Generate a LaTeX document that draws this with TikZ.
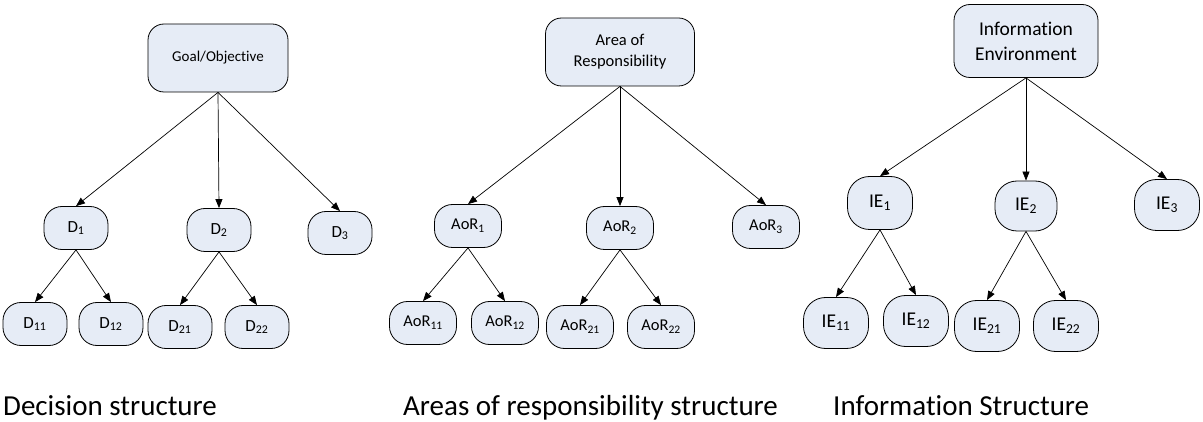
\documentclass[tikz,border=0pt]{standalone}
\usepackage{fontspec}
\setmainfont{Carlito}[Ligatures=NoCommon]
\usetikzlibrary{arrows.meta}
\definecolor{boxfill}{RGB}{230,236,246}

\begin{document}
\begin{tikzpicture}[x=1pt,y=-1pt,
    box/.style={draw=black,fill=boxfill,line width=0.8pt,inner sep=0pt,align=center},
    topbox/.style={box,rounded corners=16pt,minimum height=68pt},
    leaf/.style={box,rounded corners=18pt,minimum width=64pt,minimum height=43pt},
    ieleaf/.style={box,rounded corners=22pt,minimum width=65pt,minimum height=51pt},
    dfont/.style={font=\fontsize{15}{19}\selectfont},
    dleaffont/.style={font=\fontsize{17}{21}\selectfont},
    aorfont/.style={font=\fontsize{16.5}{21}\selectfont},
    iefont/.style={font=\fontsize{19.5}{25}\selectfont},
    arr/.style={-{Triangle[length=9pt,width=7pt]},line width=0.7pt},
    caption/.style={anchor=base west,inner sep=0pt,font=\fontsize{29}{33}\selectfont}]
    \useasboundingbox (0,0) rectangle (1203,422);
    \node [topbox,dfont,minimum width=140pt] (goal) at (218,58) {Goal/Objective};
    \node [leaf,dleaffont] (d1) at (76,228) {D\textsubscript{1}};
    \node [leaf,dleaffont] (d2) at (219,230) {D\textsubscript{2}};
    \node [leaf,dleaffont] (d3) at (340,233) {D\textsubscript{3}};
    \node [leaf,dleaffont] (d11) at (35,324) {D\textsubscript{11}};
    \node [leaf,dleaffont] (d12) at (111,324) {D\textsubscript{12}};
    \node [leaf,dleaffont] (d21) at (180,327) {D\textsubscript{21}};
    \node [leaf,dleaffont] (d22) at (257,327) {D\textsubscript{22}};
    \draw [arr] (goal.south) -- (d1.north);
    \draw [arr] (goal.south) -- (d2.north);
    \draw [arr] (goal.south) -- (d3.north);
    \draw [arr] (d1.south) -- (d11.north);
    \draw [arr] (d1.south) -- (d12.north);
    \draw [arr] (d2.south) -- (d21.north);
    \draw [arr] (d2.south) -- (d22.north);
    \node [topbox,aorfont,minimum width=149pt] (aor) at (620,52) {Area of\\Responsibility};
    \node [leaf,aorfont,minimum width=67pt] (aor1) at (468,226) {AoR\textsubscript{1}};
    \node [leaf,aorfont,minimum width=67pt] (aor2) at (620,228) {AoR\textsubscript{2}};
    \node [leaf,aorfont,minimum width=67pt] (aor3) at (766,227) {AoR\textsubscript{3}};
    \node [leaf,aorfont,minimum width=67pt] (aor11) at (423,323) {AoR\textsubscript{11}};
    \node [leaf,aorfont,minimum width=67pt] (aor12) at (505,323) {AoR\textsubscript{12}};
    \node [leaf,aorfont,minimum width=67pt] (aor21) at (580,327) {AoR\textsubscript{21}};
    \node [leaf,aorfont,minimum width=67pt] (aor22) at (661,327) {AoR\textsubscript{22}};
    \draw [arr] (aor.south) -- (aor1.north);
    \draw [arr] (aor.south) -- (aor2.north);
    \draw [arr] (aor.south) -- (aor3.north);
    \draw [arr] (aor1.south) -- (aor11.north);
    \draw [arr] (aor1.south) -- (aor12.north);
    \draw [arr] (aor2.south) -- (aor21.north);
    \draw [arr] (aor2.south) -- (aor22.north);
    \node [topbox,iefont,minimum width=144pt,minimum height=73pt] (ie) at (1026,41) {Information\\Environment};
    \node [ieleaf,iefont,minimum height=53pt] (ie1) at (880,203) {IE\textsubscript{1}};
    \node [ieleaf,iefont,minimum width=62pt,minimum height=50pt] (ie2) at (1026,206) {IE\textsubscript{2}};
    \node [ieleaf,iefont] (ie3) at (1167,205) {IE\textsubscript{3}};
    \node [ieleaf,iefont] (ie11) at (836,323) {IE\textsubscript{11}};
    \node [ieleaf,iefont] (ie12) at (916,321) {IE\textsubscript{12}};
    \node [ieleaf,iefont] (ie21) at (987,326) {IE\textsubscript{21}};
    \node [ieleaf,iefont] (ie22) at (1066,326) {IE\textsubscript{22}};
    \draw [arr] (ie.south) -- (ie1.north);
    \draw [arr] (ie.south) -- (ie2.north);
    \draw [arr] (ie.south) -- (ie3.north);
    \draw [arr] (ie1.south) -- (ie11.north);
    \draw [arr] (ie1.south) -- (ie12.north);
    \draw [arr] (ie2.south) -- (ie21.north);
    \draw [arr] (ie2.south) -- (ie22.north);
    \node [caption] (cap1) at (3,415) {Decision structure};
    \node [caption] (cap2) at (403,415) {Areas of responsibility structure};
    \node [caption] (cap3) at (833,415) {Information Structure};
\end{tikzpicture}
\end{document}
